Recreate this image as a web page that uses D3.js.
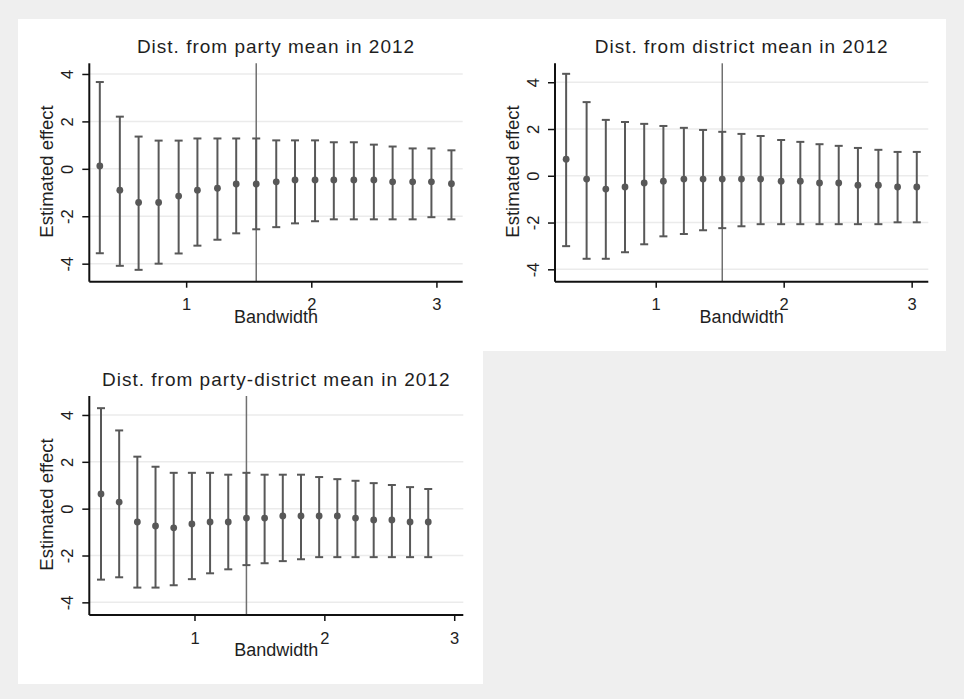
<!DOCTYPE html>
<html>
<head>
<meta charset="utf-8">
<script src="https://cdn.jsdelivr.net/npm/d3@7"></script>
<style>
body { margin: 0; background: #efefef; }
text { font-family: "Liberation Sans", Arial, sans-serif; fill: #1e1e1e; }
</style>
</head>
<body>
<svg id="chart" width="964" height="699"></svg>
<script>
// values
var titles = ['Dist. from party mean in 2012', 'Dist. from district mean in 2012', 'Dist. from party-district mean in 2012']
var optimal = [1.56, 1.52, 1.40]
var xTicks = [1, 2, 3]
var yTicks = [-4, -2, 0, 2, 4]

var bw1 = [0.31, 0.47, 0.62, 0.78, 0.94, 1.09, 1.25, 1.40, 1.56, 1.72, 1.87, 2.03, 2.18, 2.34, 2.50, 2.65, 2.81, 2.96, 3.12]
var est1 = [0.12, -0.90, -1.42, -1.42, -1.15, -0.90, -0.82, -0.64, -0.64, -0.55, -0.47, -0.47, -0.47, -0.47, -0.47, -0.55, -0.55, -0.55, -0.63]
var hi1 = [3.66, 2.20, 1.36, 1.19, 1.19, 1.28, 1.28, 1.28, 1.28, 1.20, 1.20, 1.20, 1.12, 1.12, 1.02, 0.94, 0.86, 0.86, 0.78]
var lo1 = [-3.56, -4.09, -4.26, -4.00, -3.57, -3.24, -2.99, -2.72, -2.55, -2.46, -2.30, -2.21, -2.13, -2.13, -2.13, -2.13, -2.13, -2.04, -2.13]

var bw2 = [0.30, 0.46, 0.61, 0.76, 0.91, 1.06, 1.22, 1.37, 1.52, 1.67, 1.82, 1.98, 2.13, 2.28, 2.43, 2.58, 2.74, 2.89, 3.04]
var est2 = [0.71, -0.14, -0.57, -0.48, -0.31, -0.23, -0.14, -0.14, -0.14, -0.14, -0.14, -0.23, -0.23, -0.31, -0.31, -0.40, -0.40, -0.48, -0.48]
var hi2 = [4.36, 3.15, 2.39, 2.30, 2.22, 2.13, 2.05, 1.96, 1.88, 1.79, 1.70, 1.53, 1.45, 1.35, 1.28, 1.19, 1.11, 1.02, 1.02]
var lo2 = [-3.01, -3.55, -3.55, -3.27, -2.93, -2.59, -2.49, -2.33, -2.24, -2.16, -2.07, -2.07, -2.07, -2.07, -2.07, -2.07, -2.07, -1.99, -1.99]

var bw3 = [0.28, 0.42, 0.56, 0.70, 0.84, 0.98, 1.12, 1.26, 1.40, 1.54, 1.68, 1.82, 1.96, 2.10, 2.24, 2.38, 2.52, 2.66, 2.80]
var est3 = [0.63, 0.28, -0.57, -0.74, -0.82, -0.65, -0.57, -0.57, -0.40, -0.40, -0.31, -0.31, -0.31, -0.31, -0.40, -0.48, -0.48, -0.57, -0.57]
var hi3 = [4.29, 3.34, 2.22, 1.79, 1.53, 1.53, 1.53, 1.45, 1.53, 1.45, 1.45, 1.45, 1.35, 1.26, 1.19, 1.09, 1.01, 0.92, 0.84]
var lo3 = [-3.03, -2.93, -3.37, -3.37, -3.27, -3.01, -2.76, -2.59, -2.41, -2.33, -2.24, -2.16, -2.07, -2.07, -2.07, -2.07, -2.07, -2.07, -2.07]

var svg = d3.select('#chart')
var ink = '#585858'

// white graph regions
svg.append('rect').attr('x', 18).attr('y', 19).attr('width', 465).attr('height', 332).attr('fill', '#fff')
svg.append('rect').attr('x', 483).attr('y', 19).attr('width', 463).attr('height', 332).attr('fill', '#fff')
svg.append('rect').attr('x', 18).attr('y', 351).attr('width', 465).attr('height', 333).attr('fill', '#fff')

var panels = [
    { left: 89.3, top: 63.3, right: 462.7, bottom: 281.7, xdom: [0.226, 3.21], ydom: [-4.76, 4.45], bw: bw1, est: est1, hi: hi1, lo: lo1 },
    { left: 555, top: 63.3, right: 928.3, bottom: 281.7, xdom: [0.213, 3.13], ydom: [-4.53, 4.81], bw: bw2, est: est2, hi: hi2, lo: lo2 },
    { left: 89.3, top: 396, right: 463.3, bottom: 615, xdom: [0.19, 3.07], ydom: [-4.54, 4.81], bw: bw3, est: est3, hi: hi3, lo: lo3 }
]

function draw(p, i) {
    var g = svg.append('g')
    var x = d3.scaleLinear().domain(p.xdom).range([p.left, p.right])
    var y = d3.scaleLinear().domain(p.ydom).range([p.bottom, p.top])
    var cx = (p.left + p.right) / 2

    // gridlines
    g.selectAll('line.grid')
        .data(yTicks)
        .enter()
            .append('line')
            .attr('class', 'grid')
            .attr('x1', p.left).attr('x2', p.right)
            .attr('y1', function(d) { return y(d); })
            .attr('y2', function(d) { return y(d); })
            .attr('stroke', '#ebebeb').attr('stroke-width', 1.5)

    // optimal bandwidth line
    g.append('line')
        .attr('x1', x(optimal[i])).attr('x2', x(optimal[i]))
        .attr('y1', p.top).attr('y2', p.bottom)
        .attr('stroke', '#707070').attr('stroke-width', 1.5)

    var rows = p.bw.map(function(b, k) { return { b: b, e: p.est[k], hi: p.hi[k], lo: p.lo[k] }; })

    g.selectAll('line.bar')
        .data(rows)
        .enter()
            .append('line')
            .attr('class', 'bar')
            .attr('x1', function(d) { return x(d.b); })
            .attr('x2', function(d) { return x(d.b); })
            .attr('y1', function(d) { return y(d.hi); })
            .attr('y2', function(d) { return y(d.lo); })
            .attr('stroke', ink).attr('stroke-width', 2)

    var caps = []
    rows.forEach(function(d) { caps.push({ b: d.b, v: d.hi }); caps.push({ b: d.b, v: d.lo }); })
    g.selectAll('line.cap')
        .data(caps)
        .enter()
            .append('line')
            .attr('class', 'cap')
            .attr('x1', function(d) { return x(d.b) - 4; })
            .attr('x2', function(d) { return x(d.b) + 4; })
            .attr('y1', function(d) { return y(d.v); })
            .attr('y2', function(d) { return y(d.v); })
            .attr('stroke', ink).attr('stroke-width', 2)

    g.selectAll('circle')
        .data(rows)
        .enter()
            .append('circle')
            .attr('cx', function(d) { return x(d.b); })
            .attr('cy', function(d) { return y(d.e); })
            .attr('r', 3.4)
            .attr('fill', ink)

    // axes, plain hyphen minus like the original
    var fmt = function(d) { return String(d); }
    var xa = g.append('g').attr('transform', 'translate(0,' + p.bottom + ')')
        .call(d3.axisBottom(x).tickValues(xTicks).tickSize(6).tickSizeOuter(0).tickPadding(11).tickFormat(fmt))
    var ya = g.append('g').attr('transform', 'translate(' + p.left + ',0)')
        .call(d3.axisLeft(y).tickValues(yTicks).tickSize(7).tickSizeOuter(0).tickFormat(fmt))
    ;[xa, ya].forEach(function(a) {
        a.select('.domain').attr('stroke', '#111').attr('stroke-width', 2)
        a.selectAll('.tick line').attr('stroke', '#111').attr('stroke-width', 1.5)
        a.selectAll('text').attr('font-size', 16.5).attr('fill', '#1e1e1e')
            .attr('font-family', '"Liberation Sans", Arial, sans-serif')
    })
    xa.select('.domain').attr('d', 'M' + p.left + ',0H' + p.right)
    ya.select('.domain').attr('d', 'M0,' + p.top + 'V' + p.bottom)
    ya.selectAll('.tick text')
        .attr('x', null).attr('dy', null)
        .attr('text-anchor', 'middle')
        .attr('transform', 'translate(-16,0) rotate(-90)')

    // titles
    g.append('text')
        .attr('x', cx).attr('y', p.top - 10)
        .attr('text-anchor', 'middle')
        .attr('font-size', 19).attr('letter-spacing', 1)
        .text(titles[i])
    g.append('text')
        .attr('x', cx).attr('y', p.bottom + 41)
        .attr('text-anchor', 'middle')
        .attr('font-size', 18)
        .text('Bandwidth')
    g.append('text')
        .attr('transform', 'translate(' + (p.left - 36) + ',' + ((p.top + p.bottom) / 2 - 1) + ') rotate(-90)')
        .attr('text-anchor', 'middle')
        .attr('font-size', 18.5)
        .text('Estimated effect')
}

panels.forEach(draw)
</script>
</body>
</html>
